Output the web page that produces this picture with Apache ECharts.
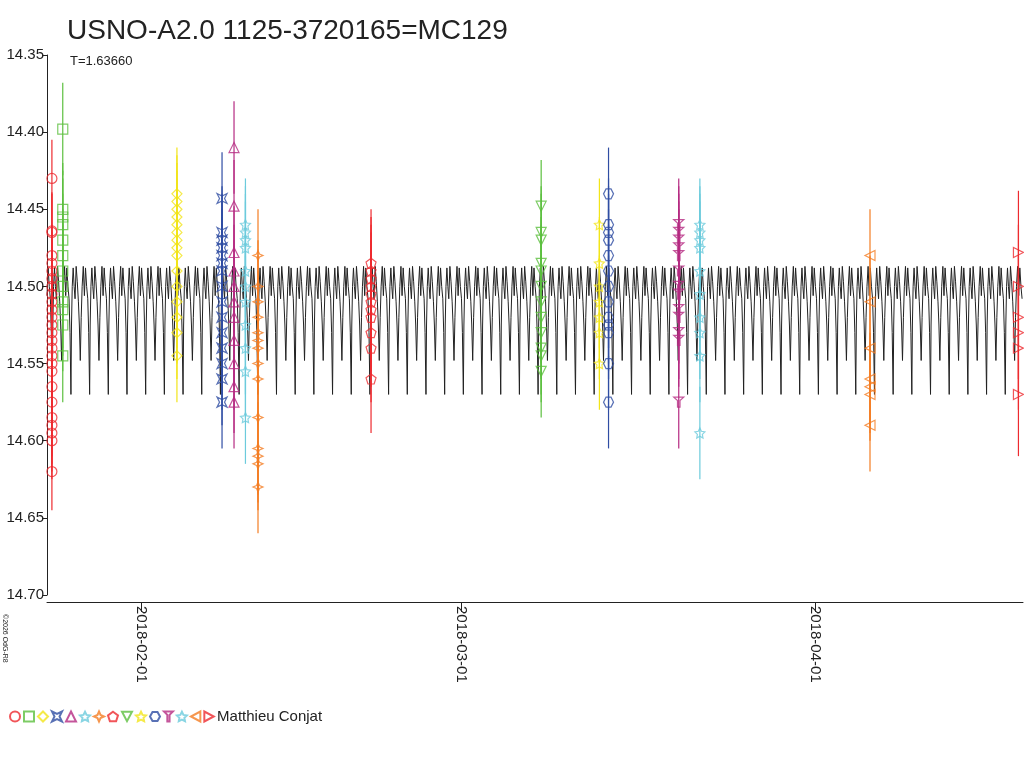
<!DOCTYPE html>
<html><head><meta charset="utf-8">
<script src="https://cdn.jsdelivr.net/npm/echarts@6/dist/echarts.min.js"></script>
<style>html,body{margin:0;padding:0;background:#fff}#c{width:1024px;height:768px}</style>
</head><body><div id="c"></div>
<script>
// x values are days from 2018-02-01
const period = 1.63660;
const epochDay = -7.82;
// one-cycle model template: [phase, mag]
const modelPhase = [0, 0.03, 0.07, 0.12, 0.17, 0.22, 0.28, 0.34, 0.40, 0.45, 0.50, 0.55, 0.60, 0.66, 0.72, 0.78, 0.84, 0.90, 0.95];
const modelMag   = [14.570, 14.525, 14.500, 14.488, 14.500, 14.508, 14.487, 14.497, 14.510, 14.525, 14.548, 14.520, 14.500, 14.487, 14.506, 14.488, 14.500, 14.508, 14.530];
const xMin = -8.28, xMax = 77.2;

const groupDays = [-7.85, -6.9, 3.1, 7.05, 8.1, 9.1, 10.2, 20.1, 35.0, 40.1, 40.9, 47.05, 48.9, 63.8, 76.8];
const groupMags = [
 [14.43,14.464,14.465,14.48,14.485,14.49,14.495,14.50,14.505,14.51,14.515,14.52,14.525,14.53,14.535,14.54,14.545,14.55,14.555,14.565,14.575,14.585,14.59,14.595,14.60,14.62],
 [14.398,14.45,14.455,14.46,14.47,14.48,14.49,14.50,14.51,14.515,14.525,14.545],
 [14.44,14.445,14.45,14.455,14.46,14.465,14.47,14.475,14.48,14.49,14.50,14.51,14.52,14.53,14.545],
 [14.443,14.465,14.47,14.475,14.48,14.485,14.49,14.50,14.51,14.52,14.53,14.54,14.55,14.56,14.575],
 [14.41,14.448,14.478,14.49,14.50,14.51,14.52,14.535,14.55,14.565,14.575],
 [14.46,14.465,14.47,14.475,14.49,14.50,14.51,14.525,14.54,14.555,14.585],
 [14.48,14.50,14.51,14.52,14.53,14.535,14.54,14.55,14.56,14.585,14.605,14.61,14.615,14.63],
 [14.485,14.49,14.495,14.50,14.505,14.51,14.515,14.52,14.53,14.54,14.56],
 [14.448,14.465,14.47,14.485,14.49,14.50,14.51,14.52,14.53,14.54,14.545,14.555],
 [14.46,14.485,14.50,14.51,14.52,14.53,14.55],
 [14.44,14.46,14.465,14.47,14.48,14.49,14.50,14.51,14.52,14.525,14.53,14.55,14.575],
 [14.46,14.465,14.47,14.475,14.48,14.49,14.50,14.505,14.515,14.52,14.53,14.535,14.575],
 [14.46,14.465,14.47,14.475,14.49,14.505,14.52,14.53,14.545,14.595],
 [14.48,14.51,14.54,14.56,14.565,14.57,14.59],
 [14.478,14.50,14.52,14.53,14.54,14.57]
];
const groupErr = [0.025,0.03,0.03,0.03,0.03,0.03,0.03,0.035,0.03,0.03,0.03,0.03,0.03,0.03,0.04];
const yTicks = ['14.35','14.40','14.45','14.50','14.55','14.60','14.65','14.70'];
const monthTicks = [0, 28, 59];
const monthLabels = {0:'2018-02-01', 28:'2018-03-01', 59:'2018-04-01'};
const observer = 'Matthieu Conjat';

const colors = ['#ee2a2f','#5cbf3f','#f2e51a','#2f4da3','#b52a82','#6ccbdc','#f47d23','#ee2a2f','#5cbf3f','#f2e51a','#2f4da3','#b52a82','#6ccbdc','#f47d23','#ee2a2f'];
const star5 = 'path://M0,-10 L2.9,-4 9.5,-3.1 4.7,1.5 5.9,8.1 0,5 -5.9,8.1 -4.7,1.5 -9.5,-3.1 -2.9,-4Z';
const star4 = 'path://M0,-10 L3,-3 10,0 3,3 0,10 -3,3 -10,0 -3,-3Z';
const pent = 'path://M0,-10 L9.5,-3.1 5.9,8.1 -5.9,8.1 -9.5,-3.1Z';
const xstar = 'path://M-8,-8 L0,-4 8,-8 4,0 8,8 0,4 -8,8 -4,0Z';
const hexa = 'path://M-5,-9 L5,-9 10,0 5,9 -5,9 -10,0Z';
const pinS = 'path://M-8,-8 L8,-8 2,-2 2,10 -2,10 -2,-2Z';
const symbols = ['circle','rect','diamond',xstar,'triangle',star5,star4,pent,'path://M-9,-8 L9,-8 0,9Z',star5,hexa,pinS,star5,'path://M8,-9 L8,9 -9,0Z','path://M-8,-9 L-8,9 9,0Z'];

const model = [];
const c0 = Math.floor((xMin - epochDay) / period) - 1;
const c1 = Math.ceil((xMax - epochDay) / period) + 1;
for (let c = c0; c <= c1; c++) {
  for (let i = 0; i < modelPhase.length; i++) {
    const d = epochDay + (c + modelPhase[i]) * period;
    if (d >= xMin && d <= xMax) model.push([d, modelMag[i]]);
  }
}

const series = [{
  type: 'line', data: model, showSymbol: false, silent: true,
  lineStyle: {color: '#222', width: 1}, z: 1
}];
groupMags.forEach((mags, g) => {
  const data = mags.map(m => [groupDays[g], m, groupErr[g]]);
  series.push({
    type: 'custom', silent: true, z: 2, data: data,
    renderItem: (params, api) => {
      const x = api.value(0), y = api.value(1), e = api.value(2);
      const p1 = api.coord([x, y - e]), p2 = api.coord([x, y + e]);
      return {type: 'line', shape: {x1: p1[0], y1: p1[1], x2: p2[0], y2: p2[1]},
        style: {stroke: colors[g], lineWidth: 1.2}};
    }
  });
  series.push({
    name: 'g' + g, type: 'scatter', data: data, symbol: symbols[g], symbolSize: 10, z: 3,
    itemStyle: {color: 'rgba(255,255,255,0)', borderColor: colors[g], borderWidth: 1.2}
  });
});

const chart = echarts.init(document.getElementById('c'));
chart.setOption({
  animation: false,
  backgroundColor: '#fff',
  textStyle: {fontFamily: 'Liberation Sans, Arial, sans-serif'},
  title: [
    {text: 'USNO-A2.0 1125-3720165=MC129', left: 62, top: 12, textStyle: {fontSize: 28, fontWeight: 'normal', color: '#222'}},
    {text: 'T=' + period.toFixed(5), left: 65, top: 50, textStyle: {fontSize: 13, fontWeight: 'normal', color: '#222'}}
  ],
  graphic: [{type: 'text', left: 1, top: 614, rotation: -Math.PI/2,
    style: {text: '©2026 OdG-R8', fontSize: 7, fill: '#222'}}],
  legend: {
    data: groupMags.map((m, g) => 'g' + g), left: 4, top: 704, itemGap: 2, itemWidth: 10, itemHeight: 10,
    formatter: n => n === 'g14' ? observer : '', textStyle: {fontSize: 15, color: '#222', padding: [0,0,0,-2]}
  },
  grid: {left: 47, top: 55, right: 1, bottom: 173},
  xAxis: {
    type: 'value', min: xMin, max: xMax, offset: 7,
    axisLine: {onZero: false, lineStyle: {color: '#222'}},
    splitLine: {show: false},
    axisTick: {customValues: monthTicks, length: 10, lineStyle: {color: '#222'}},
    axisLabel: {customValues: monthTicks, rotate: -90, fontSize: 15, color: '#222', margin: 4,
      formatter: v => monthLabels[Math.round(v)] || ''}
  },
  yAxis: {
    type: 'value', inverse: true, min: 14.35, max: 14.70, interval: 0.05,
    axisLine: {show: true, onZero: false, lineStyle: {color: '#222'}},
    splitLine: {show: false},
    axisTick: {show: true, length: 5, lineStyle: {color: '#222'}},
    axisLabel: {fontSize: 15, color: '#222', margin: 3, verticalAlign: 'middle', padding: [0,0,5,0],
      formatter: v => yTicks[Math.round((v - 14.35) / 0.05)]}
  },
  series: series
});
</script></body></html>
